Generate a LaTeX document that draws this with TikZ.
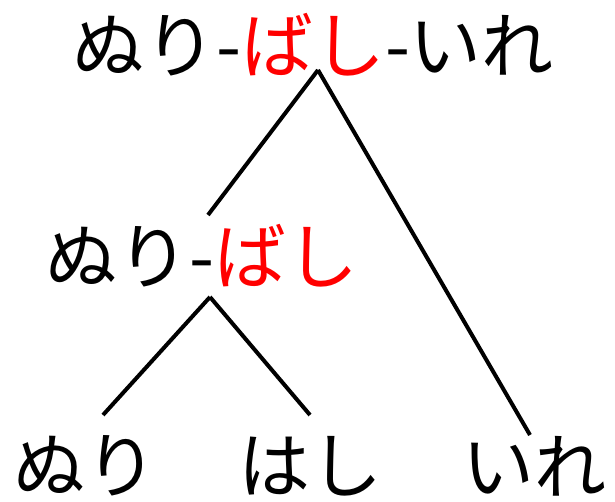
\documentclass[tikz,border=0pt]{standalone}
\usepackage{fontspec}
\setmainfont{Noto Sans CJK JP}
\begin{document}
\begin{tikzpicture}[x=1pt,y=-1pt,
  lbl/.style={inner sep=0pt,font=\fontsize{72}{72}\selectfont},
  edge/.style={line width=4pt,black}]
\useasboundingbox (0,0) rectangle (615,502);
\node[lbl] (top) at (313,45) {ぬり-\textcolor{red}{ばし}-いれ};
\node[lbl] (mid) at (202,256) {ぬり-\textcolor{red}{ばし}};
\node[lbl] (b1) at (85,466) {ぬり};
\node[lbl] (b2) at (310,466) {はし};
\node[lbl] (b3) at (534,466) {いれ};
\coordinate (jt) at (318,70);
\coordinate (jm) at (208,215);
\coordinate (jm2) at (210,297);
\coordinate (jb1) at (103,415);
\coordinate (jb2) at (310,415);
\coordinate (jb3) at (530,435);
\draw[edge] (jt) -- (jm);
\draw[edge] (jt) -- (jb3);
\draw[edge] (jm2) -- (jb1);
\draw[edge] (jm2) -- (jb2);
\end{tikzpicture}
\end{document}
